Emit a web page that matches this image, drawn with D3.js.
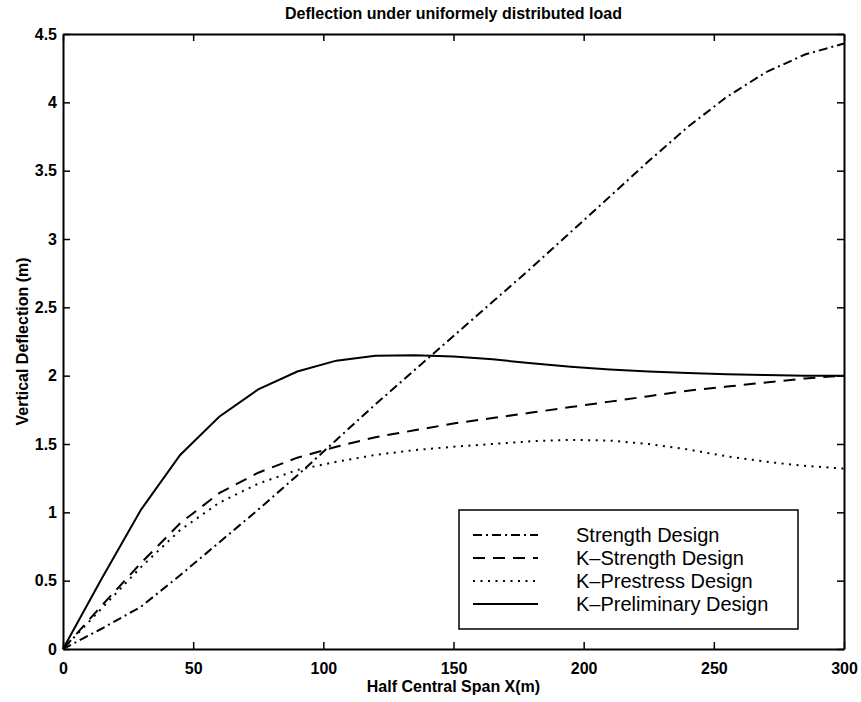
<!DOCTYPE html>
<html>
<head>
<meta charset="utf-8">
<script src="https://cdn.jsdelivr.net/npm/d3@7"></script>
<style>
  body { margin: 0; background: #fff; }
  svg { display: block; font-family: "Liberation Sans", Arial, sans-serif; }
</style>
</head>
<body>
<div id="chart"></div>
<script>
// Distance along half of the central span (m)
const spanX = [0, 15, 30, 45, 60, 75, 90, 105, 120, 135, 150, 165, 180, 195, 210, 225, 240, 255, 270, 285, 300];

// Vertical deflection (m) for each design
const strengthDesign   = [0, 0.15, 0.31, 0.54, 0.78, 1.02, 1.27, 1.53, 1.79, 2.04, 2.29, 2.54, 2.79, 3.05, 3.31, 3.57, 3.82, 4.04, 4.22, 4.35, 4.43];
const kStrengthDesign  = [0, 0.32, 0.63, 0.92, 1.14, 1.29, 1.40, 1.48, 1.55, 1.60, 1.65, 1.69, 1.73, 1.77, 1.81, 1.85, 1.89, 1.92, 1.95, 1.98, 2.00];
const kPrestressDesign = [0, 0.30, 0.60, 0.87, 1.07, 1.21, 1.31, 1.37, 1.42, 1.455, 1.48, 1.50, 1.52, 1.53, 1.525, 1.50, 1.46, 1.41, 1.37, 1.34, 1.32];
const kPreliminaryDesign = [0, 0.52, 1.02, 1.42, 1.70, 1.90, 2.03, 2.11, 2.145, 2.15, 2.14, 2.12, 2.09, 2.065, 2.045, 2.03, 2.02, 2.01, 2.005, 2.00, 2.00];

const seriesNames = ["Strength Design", "K\u2013Strength Design", "K\u2013Prestress Design", "K\u2013Preliminary Design"];
const xTicks = [0, 50, 100, 150, 200, 250, 300];
const yTicks = [0, 0.5, 1, 1.5, 2, 2.5, 3, 3.5, 4, 4.5];

const width = 861, height = 702;
const margin = { top: 34, right: 17, bottom: 53, left: 63 };
const innerW = width - margin.left - margin.right;
const innerH = height - margin.top - margin.bottom;

const svg = d3.select("#chart").append("svg")
    .attr("width", width)
    .attr("height", height);

const g = svg.append("g")
    .attr("transform", `translate(${margin.left},${margin.top})`);

const x = d3.scaleLinear().domain([0, 300]).range([0, innerW]);
const y = d3.scaleLinear().domain([0, 4.5]).range([innerH, 0]);

// line styles, matlab-ish
const styles = [
    { data: strengthDesign, dash: "9,4,2,4" },
    { data: kStrengthDesign, dash: "12,8" },
    { data: kPrestressDesign, dash: "2,5.5" },
    { data: kPreliminaryDesign, dash: null }
];

const line = d3.line()
    .x((d, i) => x(spanX[i]))
    .y(d => y(d));

styles.forEach(s => {
    g.append("path")
        .datum(s.data)
        .attr("d", line)
        .attr("fill", "none")
        .attr("stroke", "#000")
        .attr("stroke-width", 2)
        .attr("stroke-dasharray", s.dash);
});

// Axes with inward ticks on all four sides
function styleAxis(sel) {
    sel.select(".domain").attr("stroke-width", 2).attr("stroke", "#000");
    sel.selectAll(".tick line").attr("stroke-width", 1.5).attr("stroke", "#000");
    sel.selectAll("text")
        .attr("fill", "#000")
        .style("font-size", "16px")
        .style("font-weight", "bold");
}

g.append("g")
    .attr("transform", `translate(0,${innerH})`)
    .call(d3.axisBottom(x).tickValues(xTicks).tickSize(-7).tickPadding(14).tickSizeOuter(0))
    .call(styleAxis);

g.append("g")
    .call(d3.axisTop(x).tickValues(xTicks).tickSize(-7).tickFormat("").tickSizeOuter(0))
    .call(styleAxis);

g.append("g")
    .call(d3.axisLeft(y).tickValues(yTicks).tickSize(-7).tickPadding(6).tickSizeOuter(0).tickFormat(d3.format("")))
    .call(styleAxis);

g.append("g")
    .attr("transform", `translate(${innerW},0)`)
    .call(d3.axisRight(y).tickValues(yTicks).tickSize(-7).tickFormat("").tickSizeOuter(0))
    .call(styleAxis);

// Title and axis labels
svg.append("text")
    .attr("x", margin.left + innerW / 2)
    .attr("y", 19)
    .attr("text-anchor", "middle")
    .style("font-size", "16px")
    .style("font-weight", "bold")
    .text("Deflection under uniformely distributed load");

svg.append("text")
    .attr("x", margin.left + innerW / 2)
    .attr("y", 692)
    .attr("text-anchor", "middle")
    .style("font-size", "16px")
    .style("font-weight", "bold")
    .text("Half Central Span X(m)");

svg.append("text")
    .attr("transform", `translate(28,${margin.top + innerH / 2}) rotate(-90)`)
    .attr("text-anchor", "middle")
    .style("font-size", "16px")
    .style("font-weight", "bold")
    .text("Vertical Deflection (m)");

// Legend box
const legend = svg.append("g").attr("transform", "translate(459,510)");
legend.append("rect")
    .attr("width", 339)
    .attr("height", 119)
    .attr("fill", "#fff")
    .attr("stroke", "#000")
    .attr("stroke-width", 1.5);

seriesNames.forEach((name, i) => {
    const ly = 25 + i * 23;
    legend.append("line")
        .attr("x1", 14).attr("x2", 79)
        .attr("y1", ly).attr("y2", ly)
        .attr("stroke", "#000")
        .attr("stroke-width", 2)
        .attr("stroke-dasharray", styles[i].dash);
    legend.append("text")
        .attr("x", 117)
        .attr("y", ly)
        .attr("dy", "0.35em")
        .style("font-size", "20px")
        .text(name);
});
</script>
</body>
</html>
